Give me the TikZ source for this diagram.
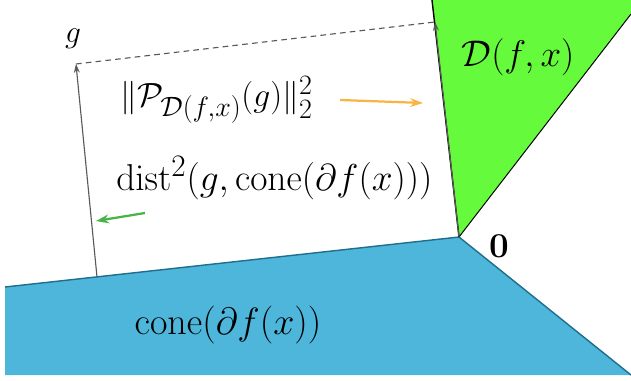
\documentclass[tikz,border=0pt]{standalone}
\usepackage{amsmath,amssymb,bm}
\usepackage{xcolor}
\usetikzlibrary{positioning,arrows.meta,calc}
\definecolor{conecol}{RGB}{77,182,218}
\definecolor{conedge}{RGB}{30,110,140}
\definecolor{dualcol}{RGB}{102,250,60}
\definecolor{projcol}{RGB}{250,180,70}
\definecolor{distcol}{RGB}{70,180,70}
\tikzset{
  vec/.style={-{Stealth[length=2.2mm,width=1.5mm]}, line width=0.8pt, color=black!65},
  hint/.style={-{Stealth[length=3.2mm,width=2.2mm]}, line width=1.6pt},
  lbl/.style={font=\Huge, inner sep=0pt}
}
\begin{document}
\begin{tikzpicture}[x=0.025cm, y=-0.025cm]
\useasboundingbox (0,0) rectangle (631,381);
% cones
\coordinate (O) at (459,237);
\fill[conecol] (5,287) -- (O) -- (631,375) -- (5,375) -- cycle;
\draw[conedge, line width=1pt] (5,287) -- (O) -- (631,375);
\fill[dualcol] (432,0) -- (631,0) -- (631,14) -- (O) -- cycle;
\draw[black, line width=0.7pt] (O) -- (631,14);
\draw[black, line width=1pt] (O) -- (432,0);
% vectors
\coordinate (Gb) at (97,277);
\coordinate (G) at (76,64);
\coordinate (P) at (435,22);
\draw[vec] (Gb) -- (G);
\draw[vec] (O) -- (P);
\draw[line width=0.8pt, color=black!65, dash pattern=on 4pt off 3pt] (G) -- (P);
% labels
\node[lbl, scale=0.9] (gl) at (73,39) {$g$};
\node[lbl] (zero) at (499,246) {$\mathbf{0}$};
\node[lbl, scale=1.06] (dual) at (518,57) {$\mathcal{D}(f,x)$};
\node[lbl, scale=1.085] (cone) at (228,325) {$\operatorname{cone}(\partial f(x))$};
\node[lbl, anchor=west, scale=0.96] (proj) at (120,100) {$\|\mathcal{P}_{\mathcal{D}(f,x)}(g)\|_2^2$};
\node[lbl, anchor=west, scale=1.07] (dist) at (116,178) {$\operatorname{dist}^2(g,\operatorname{cone}(\partial f(x)))$};
% hints
\coordinate (pa) at (340,100);
\coordinate (pb) at (423,103);
\coordinate (da) at (145,213);
\coordinate (db) at (96,221);
\draw[hint, projcol] (pa) -- (pb);
\draw[hint, distcol] (da) -- (db);
\end{tikzpicture}
\end{document}
